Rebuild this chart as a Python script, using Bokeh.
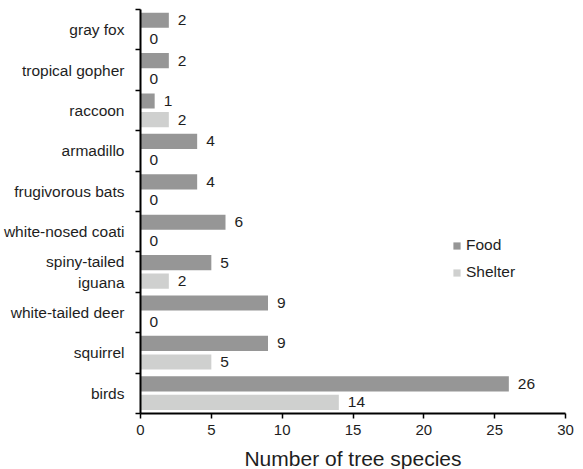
from bokeh.plotting import figure
from bokeh.models import ColumnDataSource, FixedTicker, Legend, LegendItem, Range1d
from bokeh.embed import file_html
from bokeh.resources import INLINE
from bokeh.core.properties import value

# data (top to bottom as in the chart)
categories = ["gray fox", "tropical gopher", "raccoon", "armadillo", "frugivorous bats",
              "white-nosed coati", "spiny-tailed\niguana", "white-tailed deer", "squirrel", "birds"]
food = [2, 2, 1, 4, 4, 6, 5, 9, 9, 26]
shelter = [0, 0, 2, 0, 0, 0, 2, 0, 5, 14]
x_ticks = [0, 5, 10, 15, 20, 25, 30]

n = len(categories)
centers = [n - 1 - i + 0.5 for i in range(n)]
food_y = [c + 0.235 for c in centers]
shel_y = [c - 0.225 for c in centers]

FONT = "Liberation Sans"
TXT = "#1e1e1e"
FOOD_C = "#969696"
SHEL_C = "#cfd0cf"

p = figure(frame_width=425, frame_height=404, output_backend="svg", toolbar_location=None,
           x_range=Range1d(0, 30), y_range=Range1d(0, n),
           min_border_left=140, min_border_right=18, min_border_top=9, min_border_bottom=56)
p.outline_line_color = None
p.xgrid.visible = False
p.ygrid.visible = False
p.background_fill_color = "white"
p.border_fill_color = "white"

src_f = ColumnDataSource(dict(y=food_y, v=food, t=[str(v) for v in food]))
src_s = ColumnDataSource(dict(y=shel_y, v=shelter, t=[str(v) for v in shelter]))

rf = p.hbar(y="y", right="v", left=0, height=0.375, source=src_f, fill_color=FOOD_C, line_color=None)
rs = p.hbar(y="y", right="v", left=0, height=0.375, source=src_s, fill_color=SHEL_C, line_color=None)

for src in (src_f, src_s):
    p.text(x="v", y="y", text="t", source=src, x_offset=9, text_baseline="middle", text_align="left",
           text_font=value(FONT), text_font_size="15.5px", text_color=TXT)

# x axis
xa = p.xaxis[0]
xa.ticker = FixedTicker(ticks=x_ticks)
xa.axis_line_width = 2
xa.axis_line_color = "black"
xa.major_tick_line_width = 1.5
xa.major_tick_out = 5
xa.major_tick_in = 0
xa.minor_tick_line_color = None
xa.major_label_text_font = FONT
xa.major_label_text_font_size = "15px"
xa.major_label_text_color = TXT
xa.major_label_standoff = 6
xa.axis_label = "Number of tree species"
xa.axis_label_text_font = FONT
xa.axis_label_text_font_size = "21px"
xa.axis_label_text_font_style = "normal"
xa.axis_label_text_color = TXT
xa.axis_label_standoff = 9

# y axis
ya = p.yaxis[0]
ya.ticker = FixedTicker(ticks=centers, minor_ticks=list(range(n + 1)))
ya.major_label_overrides = {c: cat for c, cat in zip(centers, categories)}
ya.axis_line_width = 2
ya.axis_line_color = "black"
ya.major_tick_line_color = None
ya.major_tick_out = 0
ya.major_tick_in = 0
ya.minor_tick_line_color = "black"
ya.minor_tick_line_width = 1.5
ya.minor_tick_out = 5
ya.minor_tick_in = 0
ya.major_label_text_font = FONT
ya.major_label_text_font_size = "15.5px"
ya.major_label_text_color = TXT
ya.major_label_standoff = 11

legend = Legend(items=[LegendItem(label="Food", renderers=[rf]),
                       LegendItem(label="Shelter", renderers=[rs])],
                location=(312, 132), orientation="vertical",
                glyph_width=9, glyph_height=9, label_standoff=5, spacing=9,
                label_text_font=FONT, label_text_font_size="15.5px", label_text_color=TXT,
                padding=0, margin=0, border_line_color=None, background_fill_alpha=0)
p.add_layout(legend)

open("out.html", "w").write(file_html(p, INLINE))
